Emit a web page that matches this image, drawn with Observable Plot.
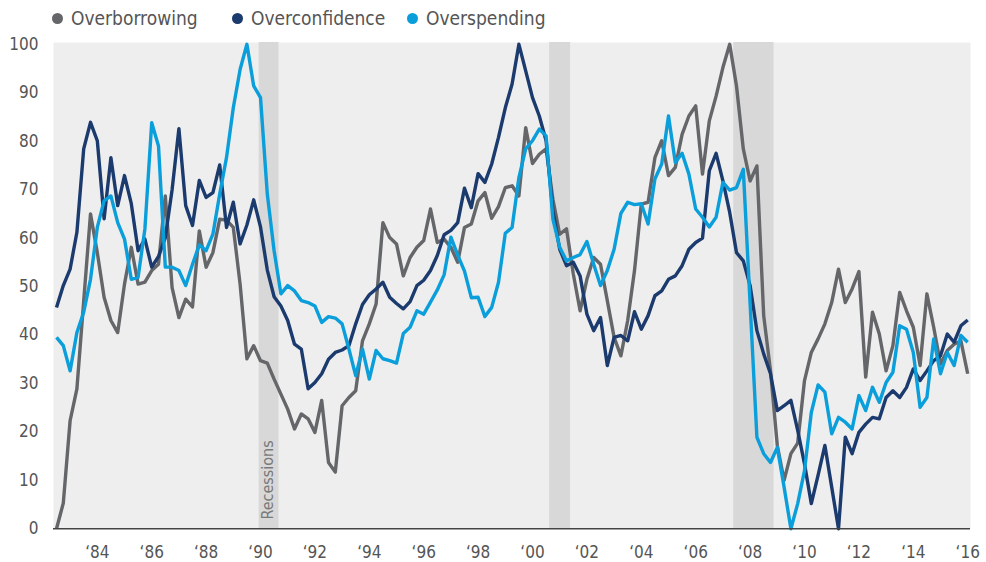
<!DOCTYPE html>
<html>
<head>
<meta charset="utf-8">
<script src="https://cdn.jsdelivr.net/npm/d3@7"></script>
<script src="https://cdn.jsdelivr.net/npm/@observablehq/plot@0.6"></script>
<style>
  html, body { margin: 0; padding: 0; background: #fff; }
  #wrap { position: relative; width: 986px; height: 562px; font-family: "Liberation Sans Narrow", "DejaVu Sans Condensed", "Arial Narrow", sans-serif; }
  .leg { position: absolute; top: 7px; font-size: 19px; color: #555; white-space: nowrap; line-height: 22px; }
  .leg .dot { display: inline-block; width: 11px; height: 11px; border-radius: 50%; margin-right: 8px; vertical-align: 1px; }
  #chart { position: absolute; left: 0; top: 0; }
</style>
</head>
<body>
<div id="wrap">
  <div id="chart"></div>
  <div id="legend"></div>
</div>
<script>
// ---- data (quarterly, starting 1983 Q1) ----
const startYear = 1983;
const seriesNames = ["Overborrowing", "Overconfidence", "Overspending"];
const seriesColors = ["#646669", "#1b3a6d", "#0a9edb"];

const overborrowing = [
  0, 5.3, 22.3, 28.9, 47, 65, 57, 47.8, 43, 40.5,
  50.5, 58.1, 50.5, 50.9, 53.3, 54.6, 68.7, 49.8, 43.6, 47.4,
  45.8, 61.5, 54, 57, 63.9, 63.7, 62.2, 50.5, 35.1, 37.8,
  34.7, 34.2, 30.9, 27.8, 24.7, 20.6, 23.7, 22.7, 19.9, 26.5,
  13.7, 11.7, 25.4, 27.1, 28.5, 38.8, 42.3, 46.4, 63.2, 60.1,
  58.8, 52.2, 56, 58.1, 59.5, 66, 59.1, 59.8, 58.1, 55,
  62.2, 62.9, 67.7, 69.4, 64.1, 66.5, 70.4, 70.8, 68.7, 82.8,
  75.4, 77.3, 78.4, 68, 60.8, 61.9, 52.6, 45, 51.5, 56,
  54.6, 47.1, 39.5, 35.7, 43, 53.3, 67, 67.4, 76.6, 80.1,
  72.9, 74.6, 81.4, 85.2, 87.3, 73.2, 84.2, 89.3, 95.2, 100,
  91.4, 78.4, 71.8, 74.9, 44, 32.6, 17.2, 10, 15.5, 17.7,
  30.6, 36.4, 39.2, 42.3, 46.7, 53.6, 46.7, 49.5, 53.1, 31.3,
  44.7, 40.2, 32.6, 37.8, 48.8, 45, 41.6, 33.7, 48.5, 41.6,
  34, 36.8, 38.1, 38.8, 32
];
const overconfidence = [
  45.7, 50.2, 53.6, 61.2, 78.4, 83.9, 80.1, 64, 76.6, 66.7,
  72.9, 67.1, 57.4, 59.8, 54, 56.2, 60.1, 70, 82.6, 66.7,
  62.6, 71.9, 68.4, 69.4, 75.1, 62.2, 67.4, 58.8, 62.7, 67.9,
  62.3, 53.4, 47.9, 46, 43, 38.1, 37.1, 28.9, 30.2, 32,
  35, 36.4, 36.9, 37.8, 42.3, 46.3, 48.3, 49.5, 50.9, 47.8,
  46.5, 45.4, 46.9, 50.2, 51.3, 53.3, 56.4, 60.7, 61.6, 63.2,
  70.3, 66.3, 73.3, 71.5, 75.3, 80.8, 86.9, 91.8, 100, 94.5,
  89, 85.2, 80.1, 65.6, 57.7, 54.3, 55, 52.2, 44.3, 40.9,
  43.6, 33.7, 39.5, 39.9, 38.8, 44.8, 41.2, 44, 48.1, 49.1,
  51.5, 52.2, 54.3, 57.7, 59.1, 60, 73.9, 77.5, 71.8, 65.3,
  57, 55.3, 50.2, 40.9, 36.1, 32, 24.4, 25.4, 26.5, 20.3,
  13.4, 5.2, 11.1, 17.2, 8.6, 0, 18.9, 15.5, 19.9, 21.6,
  23, 22.7, 27.1, 28.5, 27.1, 29.2, 33, 30.6, 32.6, 34.7,
  35.7, 40.2, 38.5, 41.9, 43.1
];
const overspending = [
  39.5, 37.8, 32.6, 40.5, 44.7, 51.5, 62.2, 67.7, 68.7, 63.2,
  59.8, 51.5, 51.9, 61.9, 83.8, 79, 54, 54, 53.3, 50.2,
  54.6, 58.6, 57.4, 60.8, 69.1, 76.6, 86.9, 94.8, 100, 91.4,
  89, 69.1, 57.4, 48.5, 50.2, 49.1, 47.1, 46.7, 46, 42.6,
  43.8, 43.5, 42.3, 37.1, 31.6, 37.1, 30.9, 36.8, 35.1, 34.7,
  34.2, 40.3, 41.6, 45, 44.3, 46.8, 49.3, 52.4, 60.2, 56.5,
  53.2, 47.7, 47.8, 43.8, 45.7, 50.9, 61, 62.2, 72.5, 78.4,
  80.1, 82.5, 81.1, 63.9, 58.1, 55.3, 56, 56.6, 59.3, 54.6,
  50.2, 53.3, 57.7, 65.1, 67.4, 66.9, 67.1, 62.9, 72.2, 75.3,
  85.2, 75.6, 77.5, 73.2, 66, 64.3, 62.3, 64.3, 71.5, 69.9,
  70.4, 74.2, 46.5, 18.9, 15.5, 13.7, 16.8, 8.6, 0, 5.2,
  12, 24, 29.7, 28.2, 19.6, 23, 22, 20.6, 27.5, 24.4,
  29.2, 26.1, 30.2, 32.3, 41.9, 41.2, 36.4, 25.1, 27.1, 39.2,
  32, 36.4, 33.7, 39.9, 38.5
];

const recessionStart = [1990.45, 2001.13, 2007.9];
const recessionEnd   = [1991.18, 2001.9, 2009.38];

const tickYears = [1984, 1986, 1988, 1990, 1992, 1994, 1996, 1998, 2000, 2002, 2004, 2006, 2008, 2010, 2012, 2014, 2016];
const yTicks = [0, 10, 20, 30, 40, 50, 60, 70, 80, 90, 100];

// ---- build tables ----
const seriesValues = [overborrowing, overconfidence, overspending];
const rows = [];
seriesValues.forEach((vals, s) => {
  vals.forEach((v, i) => rows.push({series: seriesNames[s], t: startYear + i / 4, v}));
});
const recessions = recessionStart.map((s, k) => ({start: s, end: recessionEnd[k]}));

const font = '"Liberation Sans Narrow", "DejaVu Sans Condensed", "Arial Narrow", sans-serif';

const chart = Plot.plot({
  width: 986,
  height: 562,
  marginLeft: 53,
  marginRight: 16,
  marginTop: 42,
  marginBottom: 34,
  style: {fontFamily: font, fontSize: "17px", color: "#555", background: "transparent"},
  x: {domain: [1983, 2016.5], range: [56, 967.2], axis: null},
  y: {domain: [0, 100], range: [528.3, 43.8], axis: null},
  color: {domain: seriesNames, range: seriesColors},
  marks: [
    Plot.frame({fill: "#eeeeee", stroke: null}),
    Plot.rect(recessions, {x1: "start", x2: "end", fill: "#d8d8d8"}),
    Plot.text(["Recessions"], {x: 1990.76, y: 1.9, rotate: -90, textAnchor: "start", lineAnchor: "middle", fill: "#7a7a7a", fontSize: 16}),
    Plot.axisY(yTicks, {tickSize: 0, tickPadding: 15, fontSize: 17, fill: "#555", textAnchor: "end", label: null}),
    Plot.axisX(tickYears.map(y => y + 0.5), {tickSize: 0, tickPadding: 17, fontSize: 17, fill: "#555", label: null,
      tickFormat: d => "\u2018" + String(Math.floor(d)).slice(2)}),
    Plot.line(rows, {x: "t", y: "v", z: "series", stroke: "series", strokeWidth: 3.4, strokeLinejoin: "round", strokeLinecap: "butt"}),
    Plot.ruleY([0], {stroke: "#444", strokeWidth: 1.6})
  ]
});
document.getElementById("chart").appendChild(chart);

// ---- legend ----
const legendLeft = [52, 232, 407];
const legend = document.getElementById("legend");
seriesNames.forEach((name, k) => {
  const item = document.createElement("div");
  item.className = "leg";
  item.style.left = legendLeft[k] + "px";
  const dot = document.createElement("span");
  dot.className = "dot";
  dot.style.background = seriesColors[k];
  item.appendChild(dot);
  item.appendChild(document.createTextNode(name));
  legend.appendChild(item);
});
</script>
</body>
</html>
